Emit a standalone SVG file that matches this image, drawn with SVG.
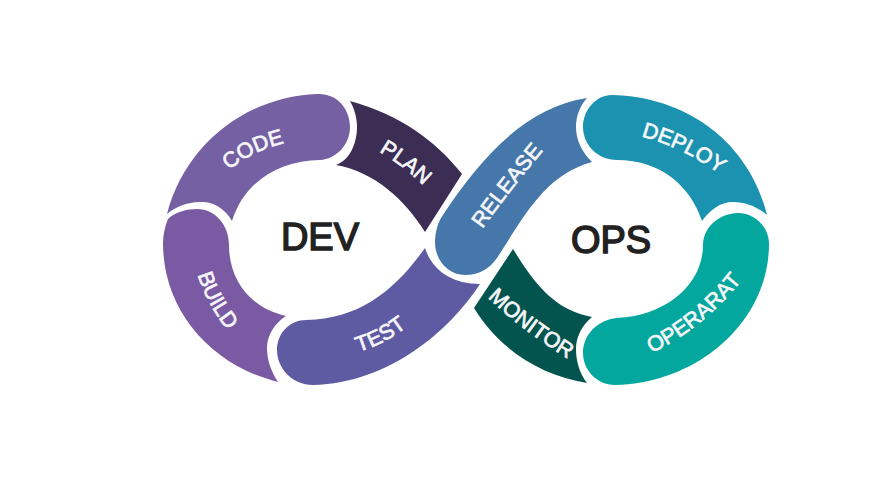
<svg xmlns="http://www.w3.org/2000/svg" width="888" height="500" viewBox="0 0 888 500">
<style>
.lbl{font-family:"Liberation Sans",Arial,sans-serif;font-size:21.5px;fill:#f6f6f8;text-anchor:middle;stroke:#f6f6f8;stroke-width:.7}
.hub{font-family:"Liberation Sans",Arial,sans-serif;font-size:38px;fill:#222;stroke:#222;stroke-width:1.5;text-anchor:middle}
</style>
<defs>
<path id="p-code" d="M225 174Q250 150 290 142"/>
<path id="p-plan" d="M376 150Q403 165 426 188"/>
<path id="p-build" d="M196 268Q203 300 232 336"/>
<path id="p-test" d="M351 354Q386 345 413 322"/>
<path id="p-release" d="M478 235Q510 190 548 145"/>
<path id="p-deploy" d="M636 135Q684 147 724 177"/>
<path id="p-monitor" d="M486 296Q521 330 570 360"/>
<path id="p-operarat" d="M648 355Q705 328 744 277"/>
</defs>
<rect width="888" height="500" fill="#fff"/>
<g id="code"><path fill="#7560a4" d="M167 214C185 145 245 97 317 94C338 93 350 110 350 127C350 145 336 159 320 160C280 161 245 180 232 221C225 208 212 201 200 202C187 202 175 207 167 214Z"/><text class="lbl"><textPath href="#p-code" startOffset="50%">CODE</textPath></text></g>
<g id="plan"><path fill="#3b2d54" d="M350 101C400 115 435 140 462 174L425 232C405 200 375 172 336 165C350 160 357 143 357 127C357 117 354 108 350 101Z"/><text class="lbl"><textPath href="#p-plan" startOffset="50%">PLAN</textPath></text></g>
<g id="build"><path fill="#7a5ba3" d="M229 245C229 225 215 209 197 209C187 209 175 212 168 219C165 226 163 235 163 243C163 310 210 365 278 382C270 370 267 358 267 348C267 335 275 323 286 316C250 308 229 280 229 245Z"/><text class="lbl"><textPath href="#p-build" startOffset="50%">BUILD</textPath></text></g>
<g id="test"><path fill="#5f5ba2" d="M277 350C277 333 290 320 306 320C360 319 395 290 425 248C432 270 452 284 480 284C450 330 390 383 313 385C292 385 277 368 277 350Z"/><text class="lbl"><textPath href="#p-test" startOffset="50%">TEST</textPath></text></g>
<g id="release"><path fill="#4677ab" d="M587 98C530 107 485 150 441 218C437 225 435 234 435 242C435 260 448 275 465 275C480 275 490 268 497 258C525 215 545 175 592 162C582 152 576 140 576 127C576 116 580 106 587 98Z"/><text class="lbl"><textPath href="#p-release" startOffset="50%">RELEASE</textPath></text></g>
<g id="deploy"><path fill="#1b93b0" d="M583 127C583 110 596 95 612 95C690 97 750 145 767 215C758 207 745 202 733 202C720 202 710 210 702 221C690 185 660 160 617 160C598 160 583 145 583 127Z"/><text class="lbl"><textPath href="#p-deploy" startOffset="50%">DEPLOY</textPath></text></g>
<g id="operarat"><path fill="#03a79d" d="M703 245C703 227 720 213 738 213C755 213 769 227 769 244C769 320 700 383 615 385C597 385 583 370 583 353C583 335 597 320 617 318C665 316 703 285 703 245Z"/><text class="lbl"><textPath href="#p-operarat" startOffset="50%">OPERARAT</textPath></text></g>
<g id="monitor"><path fill="#03544f" d="M513 249C535 285 555 310 592 317C582 325 576 337 576 349C576 362 580 374 587 383C540 375 500 350 474 308Z"/><text class="lbl"><textPath href="#p-monitor" startOffset="50%">MONITOR</textPath></text></g>
<g id="dev"><text class="hub" x="320" y="250">DEV</text></g>
<g id="ops"><text class="hub" x="611" y="253">OPS</text></g>
<g id="connectors"></g>
</svg>
